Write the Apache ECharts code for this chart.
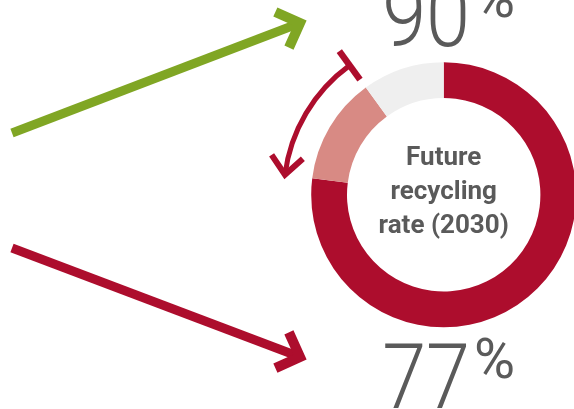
<!DOCTYPE html>
<html>
<head>
<meta charset="utf-8">
<script src="https://cdn.jsdelivr.net/npm/echarts@6/dist/echarts.min.js"></script>
<style>
  html, body { margin: 0; padding: 0; background: #ffffff; }
  #chart { width: 574px; height: 409px; }
</style>
</head>
<body>
<div id="chart"></div>
<script>
// Recycling rate today and the target for 2030 (percent)
const rateKeys = ['today', '2030'];
const recyclingRates = [77, 90];

// Donut slices: recycled today, extra share gained by 2030, remainder
const sliceNames = ['Recycled today', 'Added by 2030', 'Not recycled'];
const centerLines = ['Future', 'recycling', 'rate (2030)'];

const RED = '#ad0d2d';
const PINK = '#d88a84';
const GREY = '#efefef';
const GREEN = '#80a624';
const INK = '#5a5a5a';

const sliceValues = [
  recyclingRates[0],
  recyclingRates[1] - recyclingRates[0],
  100 - recyclingRates[1]
];
const sliceColors = [RED, PINK, GREY];

// Layout of the donut
const CENTER = [443.7, 194.8];

// Straight guide arrows, in a 574 x 409 layout space
const guideArrows = [
  { from: [12, 133], to: [300, 23], color: GREEN },
  { from: [12, 248], to: [300, 357], color: RED }
];

function chevron(tip, dir, len, half) {
  const pts = [];
  [half, -half].forEach(function (a) {
    const c = Math.cos(a), s = Math.sin(a);
    const bx = -(dir[0] * c - dir[1] * s);
    const by = -(dir[0] * s + dir[1] * c);
    pts.push([tip[0] + bx * len, tip[1] + by * len]);
  });
  return [pts[0], tip, pts[1]];
}

const chart = echarts.init(document.getElementById('chart'), null, { renderer: 'canvas' });

chart.setOption({
  animation: false,
  backgroundColor: '#ffffff',
  grid: { left: 0, right: 0, top: 0, bottom: 0 },
  xAxis: { type: 'value', min: 0, max: 574, show: false },
  yAxis: { type: 'value', min: 0, max: 409, inverse: true, show: false },
  polar: { center: CENTER, radius: 160 },
  angleAxis: { type: 'value', min: 0, max: 100, startAngle: 90, clockwise: true, show: false },
  radiusAxis: { type: 'value', min: 0, max: 1, show: false },
  series: [
    {
      type: 'pie',
      silent: true,
      center: CENTER,
      radius: [96.7, 132.5],
      startAngle: 90,
      clockwise: true,
      label: { show: false },
      labelLine: { show: false },
      itemStyle: { borderWidth: 0 },
      data: sliceValues.map(function (v, i) {
        return { name: sliceNames[i], value: v, itemStyle: { color: sliceColors[i] } };
      })
    },
    {
      // curved arrow from the 2030 rate back to today's rate
      type: 'custom',
      coordinateSystem: 'polar',
      silent: true,
      data: [[1, recyclingRates[1], recyclingRates[0]]],
      renderItem: function (params, api) {
        const r = api.value(0);
        const from = api.value(1);
        const to = api.value(2);
        const cx = params.coordSys.cx, cy = params.coordSys.cy;
        const pFrom = api.coord([r, from]);
        const pTo = api.coord([r, to]);
        const rad = Math.hypot(pFrom[0] - cx, pFrom[1] - cy);
        const aFrom = Math.atan2(pFrom[1] - cy, pFrom[0] - cx);
        const aTo = Math.atan2(pTo[1] - cy, pTo[0] - cx);
        const dir = [Math.sin(aTo), -Math.cos(aTo)];
        const barIn = api.coord([r * 0.89, from]);
        const barOut = api.coord([r * 1.11, from]);
        return {
          type: 'group',
          children: [
            {
              type: 'arc',
              shape: { cx: cx, cy: cy, r: rad, startAngle: aTo, endAngle: aFrom, clockwise: true },
              style: { fill: null, stroke: RED, lineWidth: 5 }
            },
            {
              type: 'line',
              shape: { x1: barIn[0], y1: barIn[1], x2: barOut[0], y2: barOut[1] },
              style: { stroke: RED, lineWidth: 6.5 }
            },
            {
              type: 'polyline',
              shape: { points: chevron(pTo, dir, 24, 41 * Math.PI / 180) },
              style: { fill: null, stroke: RED, lineWidth: 6, lineJoin: 'miter' }
            }
          ]
        };
      }
    },
    {
      type: 'custom',
      coordinateSystem: 'cartesian2d',
      silent: true,
      data: guideArrows.map(function (a) { return [a.from[0], a.from[1], a.to[0], a.to[1]]; }),
      renderItem: function (params, api) {
        const p1 = api.coord([api.value(0), api.value(1)]);
        const p2 = api.coord([api.value(2), api.value(3)]);
        const len = Math.hypot(p2[0] - p1[0], p2[1] - p1[1]);
        const dir = [(p2[0] - p1[0]) / len, (p2[1] - p1[1]) / len];
        const color = guideArrows[params.dataIndex].color;
        return {
          type: 'group',
          children: [
            {
              type: 'line',
              shape: { x1: p1[0], y1: p1[1], x2: p2[0], y2: p2[1] },
              style: { stroke: color, lineWidth: 9, lineCap: 'butt' }
            },
            {
              type: 'polyline',
              shape: { points: chevron(p2, dir, 27, 45 * Math.PI / 180) },
              style: { fill: null, stroke: color, lineWidth: 10, lineJoin: 'miter', lineCap: 'butt' }
            }
          ]
        };
      }
    }
  ],
  graphic: [
    {
      type: 'text',
      x: CENTER[0], y: 192,
      silent: true,
      style: {
        text: centerLines.join('\n'),
        fontFamily: 'Roboto', fontWeight: 'bold', fontSize: 26, lineHeight: 34,
        fill: INK, align: 'center', verticalAlign: 'middle'
      }
    },
    {
      type: 'text',
      x: 470, y: 23, scaleX: 0.88,
      silent: true,
      style: {
        text: String(recyclingRates[1]),
        fontFamily: 'Roboto', fontWeight: 300, fontSize: 90,
        fill: INK, align: 'right', verticalAlign: 'middle'
      }
    },
    {
      type: 'text',
      x: 474, y: 3,
      silent: true,
      style: {
        text: '%', fontFamily: 'Roboto', fontWeight: 400, fontSize: 56,
        fill: INK, align: 'left', verticalAlign: 'middle'
      }
    },
    {
      type: 'text',
      x: 470, y: 385, scaleX: 0.88,
      silent: true,
      style: {
        text: String(recyclingRates[0]),
        fontFamily: 'Roboto', fontWeight: 300, fontSize: 90,
        fill: INK, align: 'right', verticalAlign: 'middle'
      }
    },
    {
      type: 'text',
      x: 474, y: 364,
      silent: true,
      style: {
        text: '%', fontFamily: 'Roboto', fontWeight: 400, fontSize: 56,
        fill: INK, align: 'left', verticalAlign: 'middle'
      }
    }
  ]
});
</script>
</body>
</html>
